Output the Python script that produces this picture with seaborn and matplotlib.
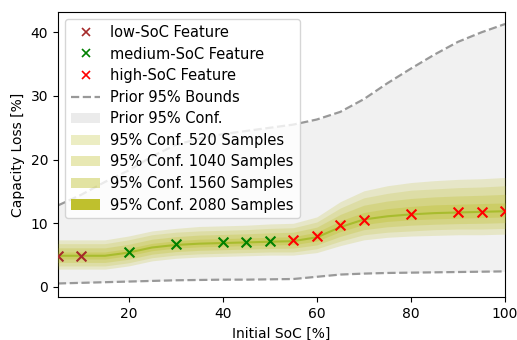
import numpy as np
import pandas as pd
import matplotlib
matplotlib.use("Agg")
import matplotlib.pyplot as plt
import seaborn as sns
from matplotlib.patches import Patch
from matplotlib.lines import Line2D

# grid of Initial SoC values [%]
soc = [5, 10, 15, 20, 25, 30, 35, 40, 45, 50, 55, 60, 65, 70, 75, 80, 85, 90, 95, 100]

# posterior mean capacity loss [%]
mean = [4.9, 4.9, 4.9, 5.4, 6.2, 6.6, 6.8, 6.9, 7.0, 7.1, 7.2, 7.8, 9.4, 10.6, 11.1, 11.4, 11.6, 11.7, 11.8, 11.9]

# prior 95% bounds
prior_lo = [0.55, 0.65, 0.75, 0.85, 0.95, 1.05, 1.1, 1.15, 1.15, 1.2, 1.25, 1.6, 1.95, 2.1, 2.2, 2.25, 2.3, 2.35, 2.4, 2.45]
prior_hi = [12.8, 14.5, 16.5, 18.3, 20.5, 22.3, 23.3, 24.0, 24.5, 25.0, 25.5, 26.3, 27.5, 29.5, 32.0, 34.3, 36.5, 38.5, 40.0, 41.3]

# 95% confidence half-widths (above / below the mean) per sample count
up_520 = [2.5, 2.5, 2.5, 2.6, 2.6, 2.6, 2.7, 2.7, 2.7, 2.8, 2.8, 3.2, 4.0, 4.5, 4.8, 5.0, 5.1, 5.2, 5.2, 5.3]
dn_520 = [2.1, 2.1, 2.1, 2.1, 2.1, 2.1, 2.1, 2.1, 2.1, 2.1, 2.2, 2.4, 2.9, 3.2, 3.3, 3.4, 3.5, 3.5, 3.6, 3.6]
up_1040 = [1.9, 1.9, 1.9, 2.0, 2.0, 2.0, 2.0, 2.0, 2.0, 2.1, 2.1, 2.4, 3.0, 3.4, 3.6, 3.8, 3.8, 3.9, 3.9, 4.0]
dn_1040 = [1.6, 1.6, 1.6, 1.6, 1.6, 1.6, 1.6, 1.6, 1.6, 1.6, 1.7, 1.8, 2.2, 2.4, 2.5, 2.6, 2.6, 2.6, 2.7, 2.7]
up_1560 = [1.25, 1.25, 1.25, 1.3, 1.3, 1.3, 1.35, 1.35, 1.35, 1.4, 1.4, 1.6, 2.0, 2.25, 2.4, 2.5, 2.55, 2.6, 2.6, 2.65]
dn_1560 = [1.05, 1.05, 1.05, 1.05, 1.05, 1.05, 1.05, 1.05, 1.05, 1.05, 1.1, 1.2, 1.45, 1.6, 1.65, 1.7, 1.75, 1.75, 1.8, 1.8]
up_2080 = [0.6, 0.6, 0.6, 0.65, 0.65, 0.65, 0.7, 0.7, 0.7, 0.7, 0.7, 0.8, 1.0, 1.1, 1.2, 1.25, 1.3, 1.3, 1.3, 1.3]
dn_2080 = [0.5, 0.5, 0.5, 0.5, 0.5, 0.5, 0.5, 0.5, 0.5, 0.5, 0.55, 0.6, 0.7, 0.8, 0.8, 0.85, 0.9, 0.9, 0.9, 0.9]

# observed features
low_x = [5, 10]
low_y = [4.8, 4.8]
med_x = [20, 30, 40, 45, 50]
med_y = [5.5, 6.7, 7.1, 7.1, 7.2]
high_x = [55, 60, 65, 70, 80, 90, 95, 100]
high_y = [7.4, 8.0, 9.7, 10.5, 11.4, 11.7, 11.8, 11.9]

band_labels = ["95% Conf. 520 Samples", "95% Conf. 1040 Samples",
               "95% Conf. 1560 Samples", "95% Conf. 2080 Samples"]

fig = plt.figure(figsize=(5.17, 3.40), dpi=100)
ax = fig.add_axes([0.112, 0.126, 0.865, 0.839])

x = np.array(soc)
m = np.array(mean)

# prior
ax.fill_between(x, prior_lo, prior_hi, color="#f1f1f1", lw=0, zorder=1)
prior_df = pd.DataFrame({"soc": soc * 2, "val": prior_lo + prior_hi,
                         "which": ["lo"] * len(soc) + ["hi"] * len(soc)})
for w in ["lo", "hi"]:
    d = prior_df[prior_df["which"] == w]
    sns.lineplot(data=d, x="soc", y="val", ax=ax, color="#999999", lw=1.6,
                 linestyle="--", zorder=2, legend=False)

olive = "#bcbd22"
bands = [(up_520, dn_520, 0.2), (up_1040, dn_1040, 0.2),
         (up_1560, dn_1560, 0.25), (up_2080, dn_2080, 0.3)]
for up, dn, a in bands:
    ax.fill_between(x, m + np.array(up), m - np.array(dn), color=olive, alpha=a, lw=0, zorder=3)
sns.lineplot(x=soc, y=mean, ax=ax, color="#a0b820", lw=1.5, alpha=0.8, zorder=4)

kw = dict(marker="x", s=50, linewidth=1.5, zorder=5, ax=ax, legend=False)
sns.scatterplot(x=low_x, y=low_y, color="brown", **kw)
sns.scatterplot(x=med_x, y=med_y, color="green", **kw)
sns.scatterplot(x=high_x, y=high_y, color="red", **kw)

ax.set_xlim(5, 100)
ax.set_ylim(-1.6, 43.2)
ax.set_xticks([20, 40, 60, 80, 100])
ax.set_yticks([0, 10, 20, 30, 40])
ax.set_xlabel("Initial SoC [%]")
ax.set_ylabel("Capacity Loss [%]")

handles = [
    Line2D([], [], marker="x", color="brown", ls="none", ms=6, mew=1.2),
    Line2D([], [], marker="x", color="green", ls="none", ms=6, mew=1.2),
    Line2D([], [], marker="x", color="red", ls="none", ms=6, mew=1.2),
    Line2D([], [], color="#999999", lw=1.6, ls="--"),
    Patch(facecolor="#ebebeb", edgecolor="none"),
    Patch(facecolor=olive, alpha=0.27, edgecolor="none"),
    Patch(facecolor=olive, alpha=0.34, edgecolor="none"),
    Patch(facecolor=olive, alpha=0.42, edgecolor="none"),
    Patch(facecolor=olive, alpha=0.95, edgecolor="none"),
]
labels = ["low-SoC Feature", "medium-SoC Feature", "high-SoC Feature",
          "Prior 95% Bounds", "Prior 95% Conf."] + band_labels
ax.legend(handles, labels, loc="upper left", fontsize=10.5, labelspacing=0.45,
          handletextpad=0.7)

fig.savefig("out.png", dpi=100)
